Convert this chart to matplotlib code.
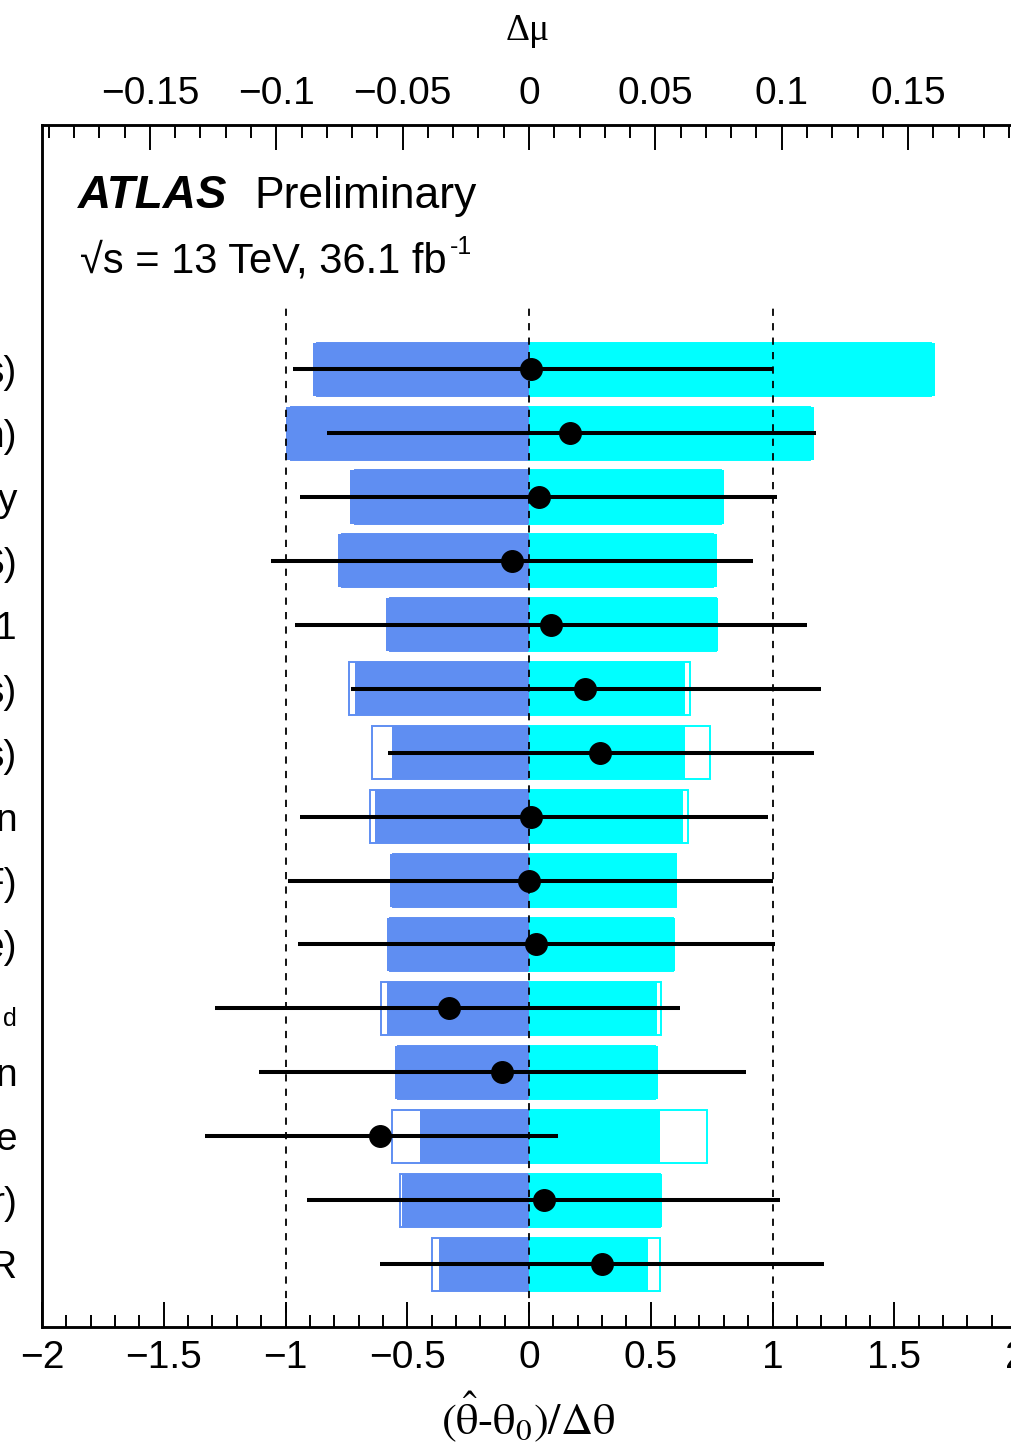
import numpy as np
import matplotlib
matplotlib.use("Agg")
import matplotlib.pyplot as plt
import matplotlib.transforms as mtransforms
from matplotlib.ticker import MultipleLocator, FuncFormatter

# rows from top to bottom (left labels are cut off in the original)
labels = ["s)", "n)", "y", "S)", "1", "s)", "s)", "n", "F)", "e)", "d", "n", "e", "r)", "R"]

# pull (theta_hat - theta_0)/dtheta and its error
theta = [0.01, 0.17, 0.04, -0.07, 0.09, 0.23, 0.29, 0.01, 0.00, 0.03, -0.33, -0.11, -0.61, 0.06, 0.30]
err_lo = [0.98, 1.00, 0.98, 0.99, 1.05, 0.96, 0.87, 0.95, 0.99, 0.98, 0.96, 1.00, 0.72, 0.97, 0.91]
err_hi = [0.99, 1.01, 0.98, 0.99, 1.05, 0.97, 0.88, 0.97, 1.00, 0.98, 0.95, 1.00, 0.73, 0.97, 0.91]

# impact on mu (top axis), post-fit filled, pre-fit open boxes
post_minus = [-0.0856, -0.0960, -0.0707, -0.0757, -0.0567, -0.0687, -0.0543, -0.0611, -0.0549, -0.0563, -0.0563, -0.0530, -0.0430, -0.0503, -0.0355]
post_plus = [0.1607, 0.1127, 0.0772, 0.0743, 0.0749, 0.0618, 0.0618, 0.0609, 0.0586, 0.0576, 0.0507, 0.0509, 0.0518, 0.0528, 0.0472]
pre_minus = [-0.0840, -0.0940, -0.0690, -0.0740, -0.0550, -0.0714, -0.0622, -0.0630, -0.0540, -0.0550, -0.0584, -0.0520, -0.0541, -0.0511, -0.0384]
pre_plus = [0.1590, 0.1110, 0.0760, 0.0730, 0.0740, 0.0637, 0.0718, 0.0628, 0.0580, 0.0570, 0.0522, 0.0500, 0.0703, 0.0520, 0.0518]

blue = "#5F8EF2"
cyan = "#00FFFF"
sans = ["Liberation Sans", "DejaVu Sans"]
serif = ["Liberation Serif", "DejaVu Serif"]
plt.rcParams["mathtext.fontset"] = "stix"

y = np.arange(len(labels))[::-1]

fig = plt.figure(figsize=(10.12, 14.43), dpi=100)
ax = fig.add_axes([42 / 1012, 116 / 1443, 974 / 1012, 1202 / 1443])
ax2 = ax.twiny()
ax.set_zorder(ax2.get_zorder() + 1)
ax.patch.set_visible(False)

ax.set_xlim(-2, 2)
ax2.set_xlim(-0.1927, 0.1927)
ax.set_ylim(-0.985, 17.82)

# impact bars
h = 0.83
ax2.barh(y, pre_minus, height=h, facecolor="white", edgecolor=blue, lw=1.4, zorder=1)
ax2.barh(y, pre_plus, height=h, facecolor="white", edgecolor=cyan, lw=1.4, zorder=1)
ax2.barh(y, post_minus, height=h, color=blue, lw=0, zorder=2)
ax2.barh(y, post_plus, height=h, color=cyan, lw=0, zorder=2)

# reference lines
for xv in [-1, 0, 1]:
    ax.plot([xv, xv], [-0.985, 15.0], ls=(0, (4, 4)), color="black", lw=1.3, zorder=3)

# pulls
ax.errorbar(theta, y, xerr=[err_lo, err_hi], fmt="o", color="black", ms=15.5,
            elinewidth=2.9, capsize=0, zorder=5)

def fmt(v, pos):
    v = round(v, 3)
    if v == 0:
        return "0"
    return f"{v:g}".replace("-", "\u2212")

ax.xaxis.set_major_locator(MultipleLocator(0.5))
ax.xaxis.set_minor_locator(MultipleLocator(0.1))
ax.xaxis.set_major_formatter(FuncFormatter(fmt))
ax2.xaxis.set_major_locator(MultipleLocator(0.05))
ax2.xaxis.set_minor_locator(MultipleLocator(0.01))
ax2.xaxis.set_major_formatter(FuncFormatter(fmt))

for a in [ax, ax2]:
    a.tick_params(axis="x", which="major", direction="in", length=18, width=1.4, labelsize=28, pad=9)
    a.tick_params(axis="x", which="minor", direction="in", length=9, width=1.4)
    for s in a.spines.values():
        s.set_linewidth(1.8)
    for lab in a.get_xticklabels():
        lab.set_family(sans)
ax.tick_params(axis="x", which="both", top=False)
ax2.tick_params(axis="x", which="both", bottom=False)
ax2.tick_params(axis="y", which="both", left=False, right=False, labelleft=False)

ax.set_yticks(y)
ax.set_yticklabels(labels, family=sans, fontsize=28)
ax.tick_params(axis="y", length=0, pad=18)
small = ax.get_yticklabels()[10]
small.set_fontsize(18)
small.set_transform(small.get_transform() + mtransforms.ScaledTranslation(0, -8 / 100, fig.dpi_scale_trans))

# axis titles
fig.text(528 / 1012, (1443 - 1434) / 1443, r"$(\hat{\mathrm{\theta}}$-$\mathrm{\theta}_{0})/\Delta\mathrm{\theta}$",
         ha="center", va="baseline", fontsize=32, family=serif)
fig.text(528 / 1012, (1443 - 40) / 1443, "\u0394\u03bc", ha="center", va="baseline", fontsize=27, family=serif)

# ATLAS label
fig.text(78 / 1012, (1443 - 208) / 1443, "ATLAS", fontsize=33, weight="bold", style="italic", family=sans)
fig.text(254 / 1012, (1443 - 208) / 1443, "Preliminary", fontsize=32, family=sans)
fig.text(80 / 1012, (1443 - 272) / 1443, "\u221as = 13 TeV, 36.1 fb", fontsize=30, family=sans)
fig.text(450 / 1012, (1443 - 254) / 1443, "-1", fontsize=18, family=sans)

plt.savefig("out.png", dpi=100)
